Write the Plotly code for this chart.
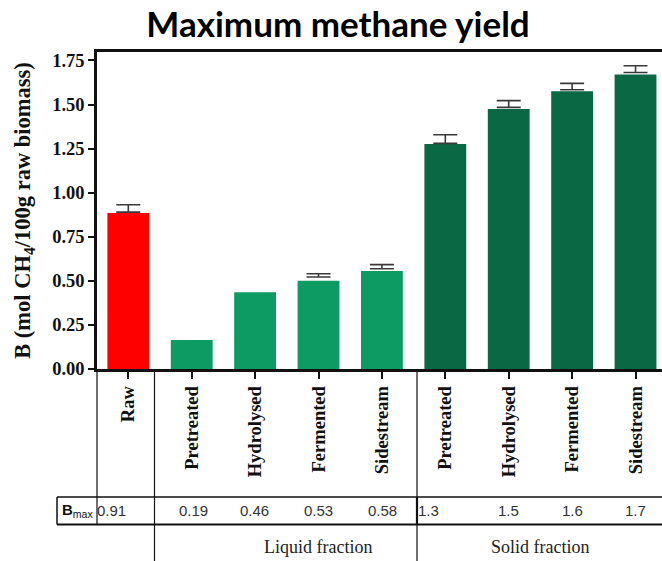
import plotly.graph_objects as go

# Sample groups and measured yields (mol CH4 / 100 g raw biomass)
categories = ["Raw", "Pretreated", "Hydrolysed", "Fermented", "Sidestream",
              "Pretreated", "Hydrolysed", "Fermented", "Sidestream"]
fractions = ["raw", "liquid", "liquid", "liquid", "liquid",
             "solid", "solid", "solid", "solid"]
yield_b = [0.885, 0.164, 0.435, 0.501, 0.556, 1.276, 1.475, 1.575, 1.671]
# error bar ends (lower cap, upper cap); None where no bar is shown
err_low = [0.890, None, None, 0.522, 0.569, 1.280, 1.484, 1.584, 1.682]
err_high = [0.932, None, None, 0.540, 0.592, 1.329, 1.522, 1.620, 1.720]
# B_max values listed in the table row
bmax = ["0.91", "0.19", "0.46", "0.53", "0.58", "1.3", "1.5", "1.6", "1.7"]
y_ticks = [0.00, 0.25, 0.50, 0.75, 1.00, 1.25, 1.50, 1.75]

fraction_colors = {"raw": "#ff0000", "liquid": "#0e9a63", "solid": "#0a6844"}

W, H = 662, 561
PLOT_L, PLOT_R, PLOT_T, PLOT_B = 97, 662, 52, 369


def px(xpix):
    return (xpix - PLOT_L) / (PLOT_R - PLOT_L)


def py(ypix):
    return (PLOT_B - ypix) / (PLOT_B - PLOT_T)


idx = list(range(len(categories)))

fig = go.Figure()
fig.add_trace(go.Bar(
    x=idx, y=yield_b,
    marker=dict(color=[fraction_colors[f] for f in fractions], line=dict(width=0)),
    width=0.66,
    hoverinfo="y",
))

# error bars drawn from the lower cap up to the upper cap
eb_x = [i for i in idx if err_low[i] is not None]
eb_lo = [err_low[i] for i in eb_x]
eb_span = [err_high[i] - err_low[i] for i in eb_x]
fig.add_trace(go.Scatter(
    x=eb_x, y=eb_lo, mode="markers",
    marker=dict(size=2, color="rgba(0,0,0,0)"),
    error_y=dict(type="data", symmetric=False, array=eb_span,
                 arrayminus=[0] * len(eb_x), color="#3a3a3a",
                 thickness=1.6, width=12),
    hoverinfo="skip",
))

serif_bold = dict(family="Liberation Serif", size=18.5, color="#111111")

fig.update_layout(
    width=W, height=H,
    margin=dict(l=PLOT_L, r=W - PLOT_R, t=PLOT_T, b=H - PLOT_B),
    paper_bgcolor="white", plot_bgcolor="white",
    showlegend=False,
    bargap=0.34,
    title=dict(text="<b>Maximum methane yield</b>",
               font=dict(family="Lato", size=35, color="#000000"),
               x=338 / W, xanchor="center", xref="container",
               y=1 - 25 / H, yanchor="middle"),
    xaxis=dict(
        range=[-0.494, -0.494 + (PLOT_R - PLOT_L) / 63.4],
        tickmode="array", tickvals=idx,
        ticktext=["<b>%s</b>" % c for c in categories],
        tickangle=-90, tickfont=serif_bold,
        ticks="outside", ticklen=7, tickwidth=2, tickcolor="#111111",
        showline=True, linewidth=2.5, linecolor="#111111", mirror=True,
        showgrid=False, zeroline=False,
    ),
    yaxis=dict(
        range=[0, (PLOT_B - PLOT_T) / 176.3],
        tickmode="array", tickvals=y_ticks,
        ticktext=["<b>%.2f</b>" % v for v in y_ticks],
        tickfont=dict(family="Liberation Serif", size=18.5, color="#111111"),
        ticks="outside", ticklen=6, tickwidth=2, tickcolor="#111111",
        showline=True, linewidth=2.5, linecolor="#111111",
        showgrid=False, zeroline=False,
        title=dict(text="<b>B (mol CH<sub>4</sub>/100g raw biomass)</b>",
                   font=dict(family="Liberation Serif", size=22.5, color="#111111"),
                   standoff=16),
    ),
)

# table grid below the axis
shapes = [
    # table row borders
    dict(x0=px(57), x1=px(662), y0=py(497), y1=py(497), w=1.5),
    dict(x0=px(57), x1=px(662), y0=py(524.5), y1=py(524.5), w=2.2),
    dict(x0=px(57), x1=px(57), y0=py(497), y1=py(524.5), w=1.5),
    # column separators
    dict(x0=px(97), x1=px(97), y0=py(369), y1=py(524.5), w=1.2),
    dict(x0=px(154.5), x1=px(154.5), y0=py(369), y1=py(561), w=1.2),
    dict(x0=px(417), x1=px(417), y0=py(369), y1=py(561), w=1.2),
    dict(x0=px(417), x1=px(417), y0=py(497), y1=py(524.5), w=2.2),
]
for s in shapes:
    fig.add_shape(type="line", xref="paper", yref="paper",
                  x0=s["x0"], x1=s["x1"], y0=s["y0"], y1=s["y1"],
                  line=dict(color="#111111", width=s["w"]), layer="above")

# B_max label cell
fig.add_annotation(xref="paper", yref="paper", x=px(60), y=py(511),
                   xanchor="left", yanchor="middle", showarrow=False,
                   text="<b>B</b><sub>max</sub>",
                   font=dict(family="Liberation Sans", size=15, color="#111111"))

# B_max values under each bar
value_shift = [-17, 2, -1, 0, 1, -17, 0, 0, 0]
for i, v in enumerate(bmax):
    fig.add_annotation(xref="x", yref="paper", x=i, y=py(511),
                       xanchor="center", yanchor="middle", showarrow=False,
                       xshift=value_shift[i], text=v,
                       font=dict(family="Liberation Sans", size=15, color="#333333"))

# fraction group labels
for label, xc in [("Liquid fraction", 318), ("Solid fraction", 540)]:
    fig.add_annotation(xref="paper", yref="paper", x=px(xc), y=py(547),
                       xanchor="center", yanchor="middle", showarrow=False,
                       text=label,
                       font=dict(family="Liberation Serif", size=18, color="#222222"))

fig.write_html("out.html")
